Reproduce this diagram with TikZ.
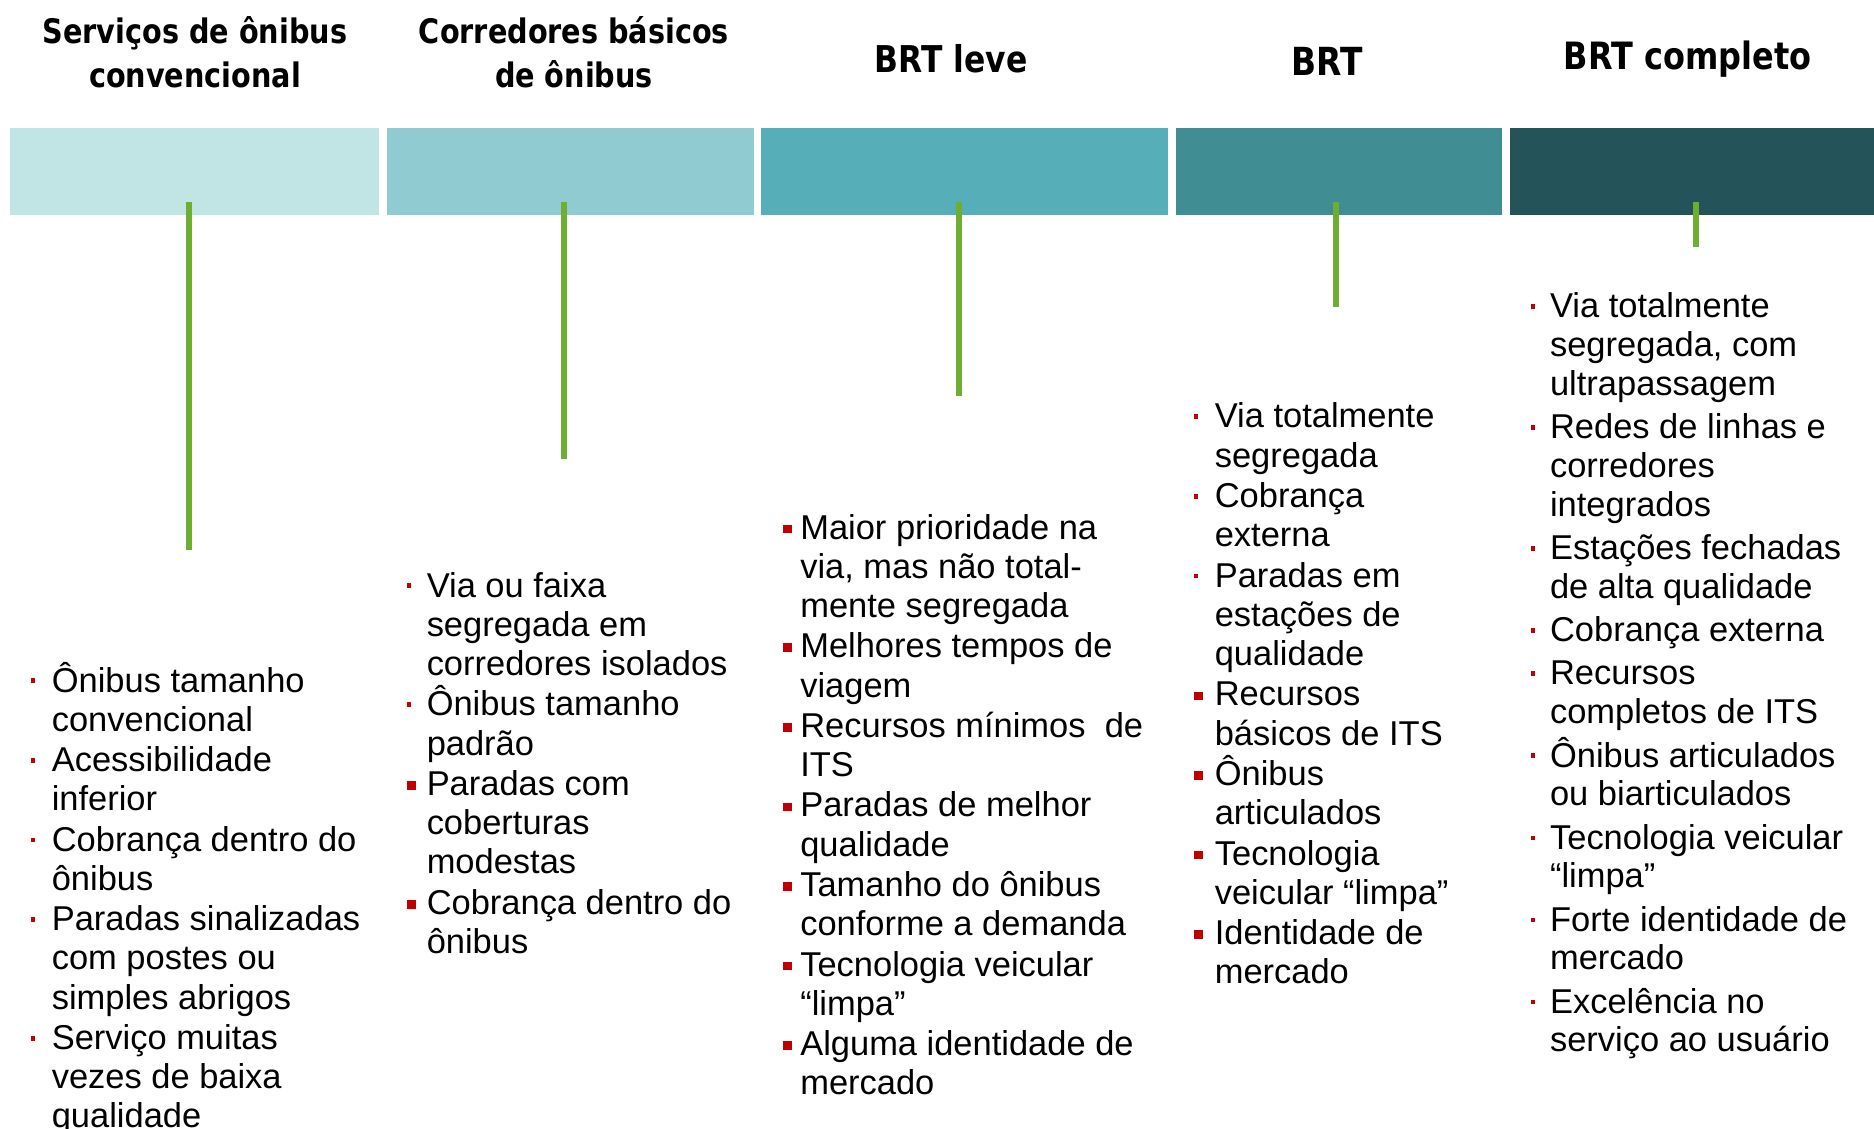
\documentclass[tikz,border=0pt]{standalone}
\usepackage{fontspec}
\setmainfont{Liberation Sans}
\newfontfamily\headfont[FakeStretch=0.85]{DejaVu Sans}
\definecolor{bar1}{HTML}{C1E5E5}
\definecolor{bar2}{HTML}{90CBD2}
\definecolor{bar3}{HTML}{55AEB8}
\definecolor{bar4}{HTML}{408E94}
\definecolor{bar5}{HTML}{24545A}
\definecolor{tickgreen}{HTML}{6EAE30}
\definecolor{bulred}{HTML}{C00000}
\newlength\bulw
\setlength\bulw{6pt}
\newcommand\bulsm{\par\hangindent=\bulw\hangafter=1\noindent\makebox[\bulw][l]{\textcolor{bulred}{\rule[2.56pt]{1.3pt}{1.3pt}}}}
\newcommand\bulbg{\par\hangindent=\bulw\hangafter=1\noindent\makebox[\bulw][l]{\textcolor{bulred}{\rule[1.6pt]{2.5pt}{2.5pt}}}}
\newcommand\nxl{\unskip\hfil\break}
\newcommand\bullist[3]{\vtop{\hsize=5.5cm\parindent=0pt\setlength\bulw{#1}\parskip=#2\lineskiplimit=-\maxdimen #3\par}}

\begin{document}
\begin{tikzpicture}[x=0.01cm,y=-0.01cm,
    hdr/.style={anchor=base,inner sep=0pt,font=\headfont\bfseries},
    lst/.style={anchor=base west,inner sep=0pt,font=\fontsize{9.8pt}{11.15pt}\selectfont},
    tick/.style={draw=tickgreen,line width=1.45pt}]
  \useasboundingbox (0,0) rectangle (1874,1128);
  % Draw the coloured bars
  \foreach \xa/\xb/\col in {10/379/bar1, 387/754/bar2, 761/1168/bar3, 1176/1502/bar4, 1510/1874/bar5}{
    \fill[\col] (\xa,128) rectangle (\xb,215);
  }
  % Draw the green ticks
  \foreach \x/\y in {189/550, 564/459, 959/396, 1336/307, 1696/247}{
    \draw[tick] (\x,202) -- (\x,\y);
  }
  % Headers
  \node[hdr] (h1) at (195,44) {\fontsize{9.6pt}{12.5pt}\selectfont\begin{tabular}[t]{@{}c@{}}Serviços de ônibus\\convencional\end{tabular}};
  \node[hdr] (h2) at (574,44) {\fontsize{9.6pt}{12.5pt}\selectfont\begin{tabular}[t]{@{}c@{}}Corredores básicos\\de ônibus\end{tabular}};
  \node[hdr] (h3) at (951,73) {\fontsize{10.5pt}{12.5pt}\selectfont BRT leve};
  \node[hdr] (h4) at (1327.5,76) {\fontsize{11pt}{12.5pt}\selectfont BRT};
  \node[hdr] (h5) at (1687.5,70) {\fontsize{10.7pt}{12.5pt}\selectfont BRT completo};
  % Lists of features
  \node[lst] (l1) at (30,692) {\bullist{6pt}{0.33pt}{%
    \bulsm Ônibus tamanho\nxl convencional
    \bulsm Acessibilidade\nxl inferior
    \bulsm Cobrança dentro do\nxl ônibus
    \bulsm Paradas sinalizadas\nxl com postes ou\nxl simples abrigos
    \bulsm Serviço muitas\nxl vezes de baixa\nxl qualidade}};
  \node[lst] (l2) at (406,597) {\bullist{5.7pt}{0.33pt}{%
    \bulsm Via ou faixa\nxl segregada em\nxl corredores isolados
    \bulsm Ônibus tamanho\nxl padrão
    \bulbg Paradas com\nxl coberturas\nxl modestas
    \bulbg Cobrança dentro do\nxl ônibus}};
  \node[lst] (l3) at (782,539) {\bullist{5pt}{0.33pt}{%
    \bulbg Maior prioridade na\nxl via, mas não total-\nxl mente segregada
    \bulbg Melhores tempos de\nxl viagem
    \bulbg Recursos mínimos\ \ de\nxl ITS
    \bulbg Paradas de melhor\nxl qualidade
    \bulbg Tamanho do ônibus\nxl conforme a demanda
    \bulbg Tecnologia veicular\nxl “limpa”
    \bulbg Alguma identidade de\nxl mercado}};
  \node[lst] (l4) at (1193,428) {\bullist{6pt}{0.33pt}{%
    \bulsm Via totalmente\nxl segregada
    \bulsm Cobrança\nxl externa
    \bulsm Paradas em\nxl estações de\nxl qualidade
    \bulbg Recursos\nxl básicos de ITS
    \bulbg Ônibus\nxl articulados
    \bulbg Tecnologia\nxl veicular “limpa”
    \bulbg Identidade de\nxl mercado}};
  \node[lst,font=\fontsize{9.8pt}{11.04pt}\selectfont] (l5) at (1530,318) {\bullist{5.5pt}{1.25pt}{%
    \bulsm Via totalmente\nxl segregada, com\nxl ultrapassagem
    \bulsm Redes de linhas e\nxl corredores\nxl integrados
    \bulsm Estações fechadas\nxl de alta qualidade
    \bulsm Cobrança externa
    \bulsm Recursos\nxl completos de ITS
    \bulsm Ônibus articulados\nxl ou biarticulados
    \bulsm Tecnologia veicular\nxl “limpa”
    \bulsm Forte identidade de\nxl mercado
    \bulsm Excelência no\nxl serviço ao usuário}};
\end{tikzpicture}
\end{document}
